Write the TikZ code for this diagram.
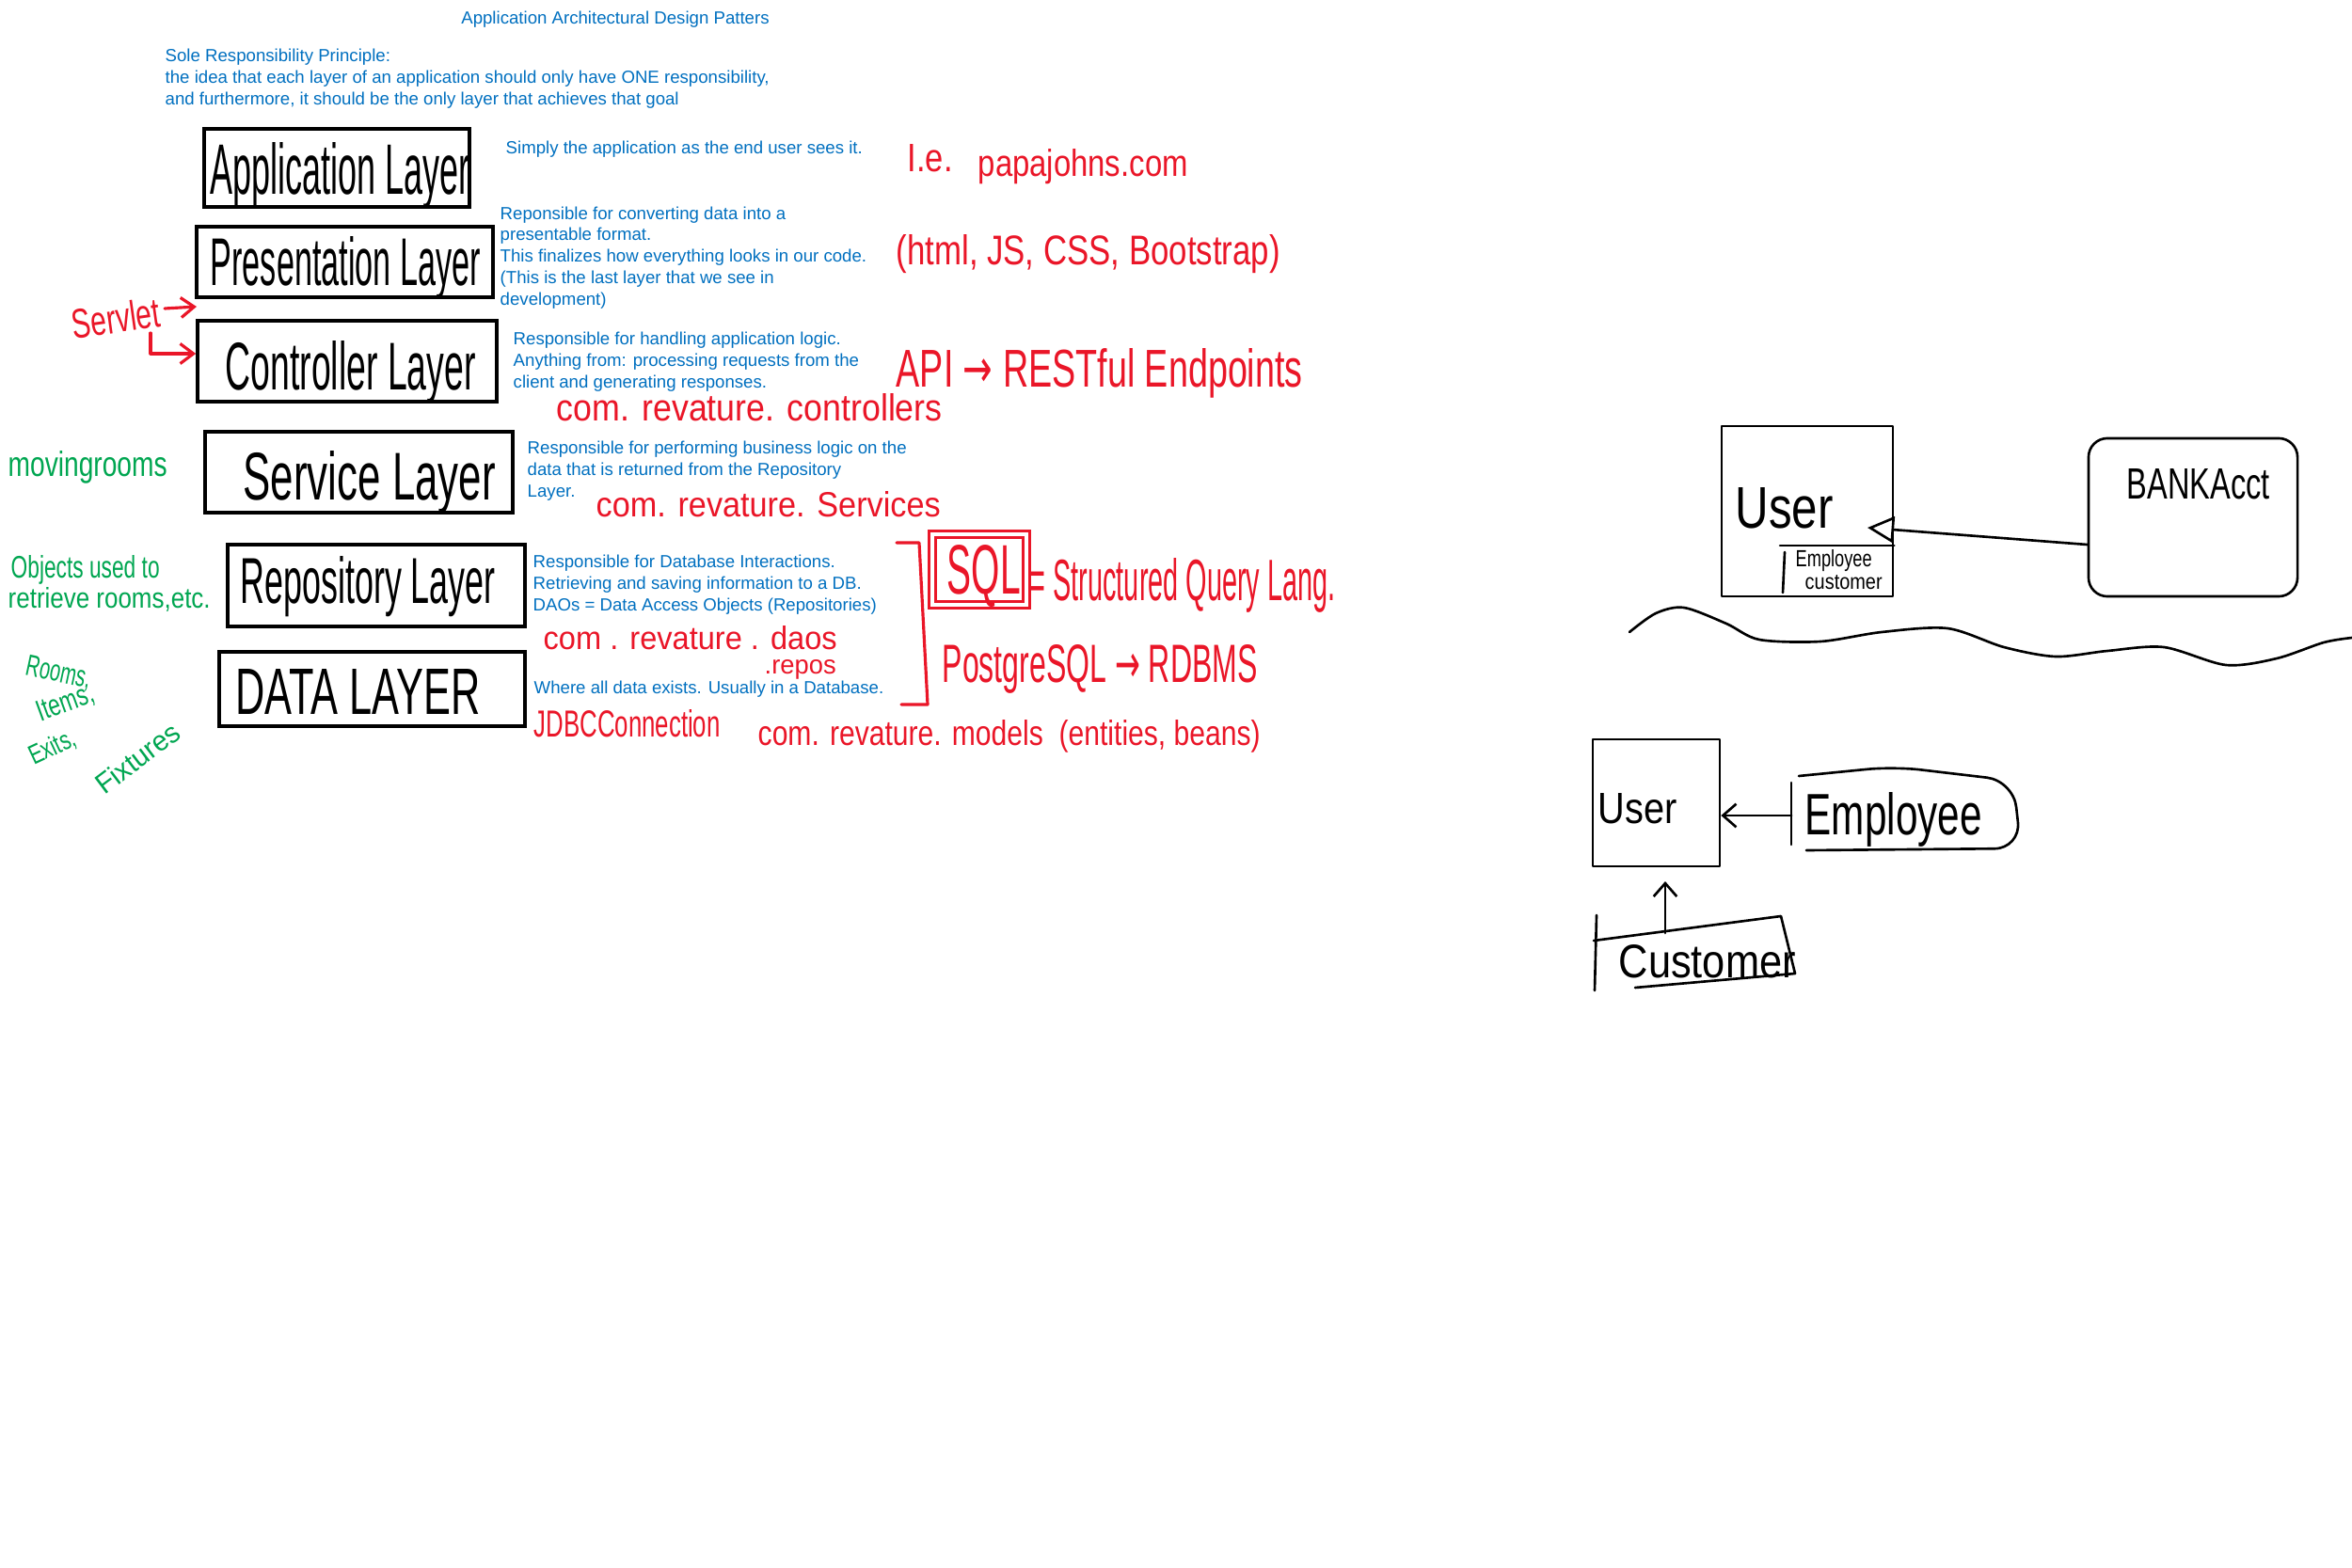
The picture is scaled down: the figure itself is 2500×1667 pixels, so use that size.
\documentclass[tikz,border=0pt]{standalone}
\usepackage{fontspec}
\usepackage{graphicx}
\setmainfont{Liberation Sans}
\newfontfamily\notefont{Liberation Sans}
\newfontfamily\symfont{DejaVu Sans}
\usetikzlibrary{arrows.meta}
\newlength\pxu
\setlength\pxu{0.01cm}
% handwritten-looking text squeezed to a given width and height (in drawing units)
\newcommand\penfit[3]{\resizebox{#1\pxu}{#2\pxu}{\notefont #3}}
\definecolor{inkblue}{RGB}{0,112,192}
\definecolor{inkred}{RGB}{234,22,40}
\definecolor{inkgreen}{RGB}{0,166,81}

\begin{document}
\begin{tikzpicture}[x=0.01cm,y=-0.01cm,
  layer/.style={draw, line width=0.95pt, inner sep=0pt},
  pen/.style={inner sep=0pt, anchor=base west},
  redpen/.style={pen, text=inkred},
  greenpen/.style={pen, text=inkgreen},
  blackpen/.style={pen, text=black},
  note/.style={text=inkblue, font=\fontsize{5.3}{6.5}\selectfont, align=left, inner sep=0pt, anchor=west},
  sketch/.style={draw, line width=0.75pt, line cap=round, line join=round},
  redline/.style={draw=inkred, line width=0.9pt, line cap=round, line join=round},
  redarrow/.style={redline, -{Straight Barb[length=4pt,width=6pt]}},
  openarrow/.style={sketch, -{Triangle[open,length=8pt,width=8pt]}},
  barbarrow/.style={sketch, -{Straight Barb[length=4pt,width=7pt]}},
]
\useasboundingbox[fill=white] (0,0) rectangle (2500,1667);

% ---------- heading ----------
\node[note, anchor=center] (title) at (654,21) {Application Architectural Design Patters};
\node[note] (srp) at (175,84) {Sole Responsibility Principle:\\the idea that each layer of an application should only have ONE responsibility,\\and furthermore, it should be the only layer that achieves that goal};

% ---------- layer boxes ----------
\node[layer, minimum width=2.82cm, minimum height=0.83cm] (app) at (358,178.5) {};
\node[layer, minimum width=3.15cm, minimum height=0.75cm] (pre) at (366.5,278.5) {};
\node[layer, minimum width=3.18cm, minimum height=0.86cm] (ctl) at (369,384) {};
\node[layer, minimum width=3.27cm, minimum height=0.86cm] (srv) at (381.5,502) {};
\node[layer, minimum width=3.16cm, minimum height=0.87cm] (rep) at (400,622.5) {};
\node[layer, minimum width=3.25cm, minimum height=0.79cm] (dat) at (395.5,732.5) {};

\node[blackpen] (appT) at (223,207) {\penfit{276}{55}{Application Layer}};
\node[blackpen] (preT) at (223,304) {\penfit{287}{52}{Presentation Layer}};
\node[blackpen] (ctlT) at (239,414) {\penfit{266}{52}{Controller Layer}};
\node[blackpen] (srvT) at (258,531) {\penfit{268}{52}{Service Layer}};
\node[blackpen] (repT) at (255,641) {\penfit{271}{50}{Repository Layer}};
\node[blackpen] (datT) at (250,759) {\penfit{260}{48}{DATA LAYER}};

% ---------- descriptions ----------
\node[note] (appD) at (537,159) {Simply the application as the end user sees it.};
\node[note] (preD) at (531,274) {Reponsible for converting data into a\\presentable format.\\This finalizes how everything looks in our code.\\(This is the last layer that we see in\\development)};
\node[note] (ctlD) at (545,385) {Responsible for handling application logic.\\Anything from: processing requests from the\\client and generating responses.};
\node[note] (srvD) at (560,501) {Responsible for performing business logic on the\\data that is returned from the Repository\\Layer.};
\node[note] (repD) at (566,622) {Responsible for Database Interactions.\\Retrieving and saving information to a DB.\\DAOs = Data Access Objects (Repositories)};
\node[note] (datD) at (567,733) {Where all data exists. Usually in a Database.};

% ---------- red annotations ----------
\node[redpen] (ie) at (964,183) {\penfit{48}{29}{I.e.}};
\node[redpen] (papa) at (1039,188) {\penfit{223}{29}{papajohns.com}};
\node[redpen] (front) at (952,282) {\penfit{408}{32}{(html, JS, CSS, Bootstrap)}};
\node[redpen] (api) at (952,411) {\penfit{432}{41}{API {\symfont→} RESTful Endpoints}};
\node[redpen] (pkgC) at (591,448) {\penfit{410}{29}{com. revature. controllers}};
\node[redpen] (pkgS) at (633,550) {\penfit{366}{27}{com. revature. Services}};
\node[redpen] (pkgD) at (577,690) {\penfit{312}{25}{com . revature . daos}};
\node[redpen] (pkgR) at (812,716) {\penfit{76}{15}{.repos}};
\node[redpen] (jdbc) at (567,783) {\penfit{198}{29}{JDBCConnection}};
\node[redpen] (pkgM) at (805,792) {\penfit{534}{27}{com. revature. models \ (entities, beans)}};

\draw[redline] (953,577) -- (977,577) -- (986,749) -- (958,749);
\node[draw=inkred, line width=0.8pt, double=white, double distance=1.2pt, minimum width=1.0cm, minimum height=0.75cm, inner sep=0pt] (sqlbox) at (1041,605.5) {};
\node[redpen] (sql) at (1006,631) {\penfit{78}{52}{SQL}};
\node[redpen] (sqlDef) at (1094,638) {\penfit{325}{45}{= Structured Query Lang.}};
\node[redpen] (pg) at (1001,725) {\penfit{335}{40}{PostgreSQL {\symfont→} RDBMS}};

\node[redpen, anchor=center, rotate=8] (servlet) at (123,338) {\penfit{94}{32}{Servlet}};
\coordinate (svA) at (175,328);
\coordinate (svB) at (209,326);
\coordinate (svC) at (160,354);
\draw[redarrow] (svA) -- (svB);
\draw[redarrow] (svC) |- (ctl.west |- 0,376);

% ---------- green annotations ----------
\node[greenpen] (moving) at (8,507) {\penfit{169}{27}{movingrooms}};
\node[greenpen] (objA) at (11,614) {\penfit{158}{24}{Objects used to}};
\node[greenpen] (objB) at (8,646) {\penfit{215}{22}{retrieve rooms,etc.}};
\node[greenpen, anchor=center, rotate=-12] (rooms) at (62,716) {\penfit{70}{22}{Rooms,}};
\node[greenpen, anchor=center, rotate=20] (items) at (70,748) {\penfit{62}{22}{Items,}};
\node[greenpen, anchor=center, rotate=25] (exits) at (56,795) {\penfit{52}{21}{Exits,}};
\node[greenpen, anchor=center, rotate=37] (fixt) at (146,806) {\penfit{104}{22}{Fixtures}};

% ---------- User / BankAcct sketch ----------
\node[sketch, minimum width=1.82cm, minimum height=1.81cm, inner sep=0pt] (user1) at (1921,543.5) {};
\node[blackpen] (user1T) at (1844,561) {\penfit{104}{43}{User}};
\draw[sketch] (1892,580) -- (user1.east |- 0,580);
\draw[sketch] (1897,587) -- (1895,630);
\node[blackpen] (subE) at (1908,603) {\penfit{81}{18}{Employee}};
\node[blackpen] (subC) at (1918,626) {\penfit{82}{15}{customer}};

\node[sketch, rounded corners=0.2cm, minimum width=2.22cm, minimum height=1.68cm, inner sep=0pt] (bank) at (2331,550) {};
\node[blackpen] (bankT) at (2260,531) {\penfit{152}{32}{BANKAcct}};
\coordinate (user1in) at (1985,561);
\draw[openarrow] (bank.west |- 0,579) -- (user1in);

\draw[sketch] plot[smooth] coordinates {(1732,672) (1760,652) (1790,646) (1835,663) (1870,680) (1935,682) (2000,672) (2070,668) (2130,688) (2185,698) (2240,692) (2300,688) (2366,707) (2420,700) (2470,683) (2500,678)};

% ---------- User / Employee / Customer sketch ----------
\node[sketch, minimum width=1.35cm, minimum height=1.35cm, inner sep=0pt] (user2) at (1760.5,853.5) {};
\node[blackpen] (user2T) at (1698,875) {\penfit{84}{32}{User}};

\node[inner sep=0pt, minimum width=2.42cm, minimum height=0.81cm] (emp) at (2026,867) {};
\draw[sketch, rounded corners=8] (1912,825) -- (2013,815) -- (2140,830) -- (2148,902) -- (1920,904);
\draw[sketch] (1904,832) -- (1904,898);
\node[blackpen] (empT) at (1918,887) {\penfit{188}{45}{Employee}};
\draw[barbarrow] (emp.west) -- (user2.east |- emp.west);

\node[inner sep=0pt, minimum width=2.12cm, minimum height=0.76cm] (cust) at (1800,1014) {};
\draw[sketch] (1694,1000) -- (1893,974) -- (1908,1035) -- (1738,1050);
\draw[sketch] (1697,973) -- (1695,1053);
\node[blackpen] (custT) at (1720,1039) {\penfit{188}{35}{Customer}};
\coordinate (custTop) at (1770,992);
\coordinate (user2in) at (1770,937);
\draw[barbarrow] (custTop) -- (user2in);
\end{tikzpicture}
\end{document}
